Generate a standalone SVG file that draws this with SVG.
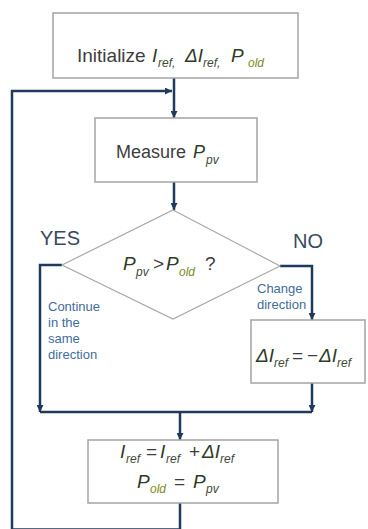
<svg xmlns="http://www.w3.org/2000/svg" width="368" height="529" viewBox="0 0 368 529">
<style>
.box{fill:#fff;stroke:#a4a4a4;stroke-width:1.5}
.dia{fill:#fff;stroke:#a8a8a8;stroke-width:1.2}
.t{font-family:"Liberation Sans",Arial,sans-serif;fill:#3d3d3d;font-size:19px}
.v{font-style:italic;fill:#2f3b25}
.s{font-style:italic;font-size:12px;fill:#3f4a35}
.o{font-style:italic;font-size:12px;fill:#7d8c26}
.lbl{font-family:"Liberation Sans",Arial,sans-serif;fill:#3a4a5e;font-size:20px}
.sm{font-family:"Liberation Sans",Arial,sans-serif;fill:#3f6d9c;font-size:13px}
.c{fill:none;stroke:#1f3a5c;stroke-width:2.5}
</style>
<defs>
<marker id="ar" viewBox="0 0 10 10" refX="10" refY="5" markerWidth="7" markerHeight="7" markerUnits="userSpaceOnUse" orient="auto">
<path d="M0,0 L10,5 L0,10 z" fill="#1f3a5c"/>
</marker>
</defs>
<g id="connectors">
<path class="c" d="M174,78 V118" marker-end="url(#ar)"/>
<path class="c" d="M180,503 V529.5 H12 V91 H172" marker-end="url(#ar)"/>
<path class="c" d="M174,182 V210" marker-end="url(#ar)"/>
<path class="c" d="M62,265 H40 V412" marker-end="url(#ar)"/>
<path class="c" d="M280,266 H312 V320" marker-end="url(#ar)"/>
<path class="c" d="M312,383 V412" marker-end="url(#ar)"/>
<path class="c" d="M40,412 H312"/>
<path class="c" d="M180,412 V440" marker-end="url(#ar)"/>
</g>
<g id="init">
<rect class="box" x="53" y="13" width="245" height="65"/>
<text class="t" y="62"><tspan x="77">Initialize</tspan><tspan class="v" x="152">I</tspan><tspan class="s" x="158" y="67">ref,</tspan><tspan class="v" x="185" y="62">ΔI</tspan><tspan class="s" x="203" y="67">ref,</tspan><tspan class="v" x="231" y="62">P</tspan><tspan class="o" x="248" y="67">old</tspan></text>
</g>
<g id="measure">
<rect class="box" x="95" y="118" width="162" height="64"/>
<text class="t" y="158" style="font-size:18px"><tspan x="116">Measure</tspan><tspan class="v" x="193">P</tspan><tspan class="s" x="206" y="164">pv</tspan></text>
</g>
<g id="decision">
<polygon class="dia" points="173,210 280,266 173,319 62,265"/>
<text class="t" y="270"><tspan class="v" x="123">P</tspan><tspan class="s" x="136" y="276">pv</tspan><tspan x="153" y="270">&gt;</tspan><tspan class="v" x="166">P</tspan><tspan class="o" x="179" y="276">old</tspan><tspan x="205" y="270">?</tspan></text>
<text class="lbl" x="40" y="245">YES</text>
<text class="lbl" x="293" y="248">NO</text>
<text class="sm"><tspan x="257" y="293">Change</tspan><tspan x="257" y="309">direction</tspan></text>
<text class="sm"><tspan x="48" y="311">Continue</tspan><tspan x="48" y="327">in the</tspan><tspan x="48" y="343">same</tspan><tspan x="48" y="359">direction</tspan></text>
</g>
<g id="change">
<rect class="box" x="251" y="320" width="114" height="63"/>
<text class="t" y="362"><tspan class="v" x="256">ΔI</tspan><tspan class="s" x="274" y="367">ref</tspan><tspan x="292" y="362">=</tspan><tspan x="307">−</tspan><tspan class="v" x="319">ΔI</tspan><tspan class="s" x="337" y="367">ref</tspan></text>
</g>
<g id="update">
<rect class="box" x="88" y="440" width="190" height="63"/>
<text class="t" y="458"><tspan class="v" x="120">I</tspan><tspan class="s" x="126" y="463">ref</tspan><tspan x="146" y="458">=</tspan><tspan class="v" x="160">I</tspan><tspan class="s" x="166" y="463">ref</tspan><tspan x="189" y="458">+</tspan><tspan class="v" x="202">ΔI</tspan><tspan class="s" x="220" y="463">ref</tspan></text>
<text class="t" y="488"><tspan class="v" x="137">P</tspan><tspan class="o" x="150" y="493">old</tspan><tspan x="174" y="488">=</tspan><tspan class="v" x="193">P</tspan><tspan class="s" x="206" y="493">pv</tspan></text>
</g>
</svg>
